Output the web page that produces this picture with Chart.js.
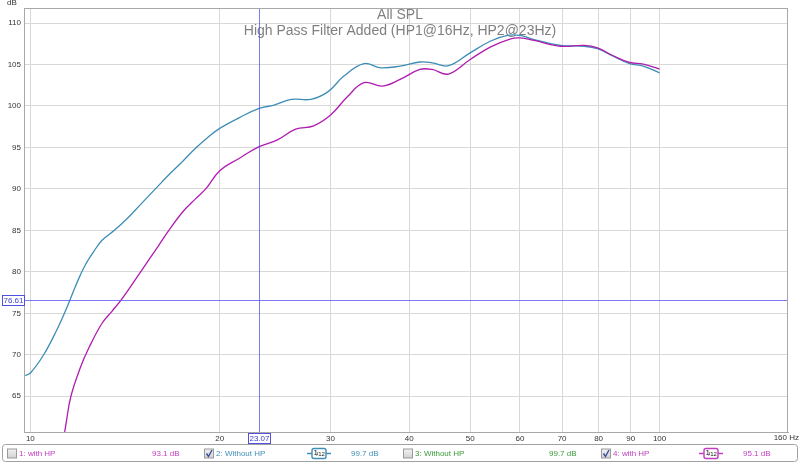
<!DOCTYPE html>
<html>
<head>
<meta charset="utf-8">
<script src="https://cdn.jsdelivr.net/npm/chart.js@4.4.1/dist/chart.umd.min.js"></script>
<style>
  html, body { margin: 0; padding: 0; background: #fff; }
  #wrap { width: 800px; height: 463px; }
</style>
</head>
<body>
<div id="wrap"><canvas id="grafico" width="800" height="463"></canvas></div>
<script>
// valores
const freqSemHP = [9.8, 10.0, 10.5, 11.0, 11.4, 11.8, 12.2, 12.6, 13.0, 13.6, 14.2, 15.0, 15.8, 16.6, 17.5, 18.3, 19.2, 20.0, 21.5, 23.1, 24.4, 26.0, 27.9, 29.7, 31.5, 33.9, 36.0, 38.7, 41.6, 43.5, 46.2, 50.0, 53.8, 57.3, 60.0, 63.2, 69.6, 75.9, 79.7, 84.4, 89.6, 94.2, 100];
const splSemHP = [67.5, 67.8, 70.0, 72.9, 75.5, 78.3, 80.7, 82.4, 83.8, 85.0, 86.3, 88.2, 90.0, 91.7, 93.4, 94.9, 96.3, 97.3, 98.6, 99.7, 100.1, 100.8, 100.8, 101.7, 103.6, 105.1, 104.6, 104.8, 105.3, 105.2, 104.85, 106.4, 107.8, 108.5, 108.5, 108.0, 107.3, 107.2, 106.9, 106.0, 105.1, 104.8, 104.0];

const freqComHP = [11.2, 11.4, 11.6, 12.0, 12.4, 13.0, 13.5, 14.0, 15.0, 16.0, 16.6, 17.5, 18.3, 19.0, 20.0, 21.5, 23.1, 24.7, 26.4, 28.2, 30.0, 31.9, 33.9, 36.3, 38.7, 41.6, 43.5, 46.2, 50.0, 53.8, 58.0, 60.0, 63.2, 69.6, 75.9, 79.7, 84.4, 89.6, 94.2, 100];
const splComHP = [58.0, 61.8, 65.0, 68.4, 70.9, 73.8, 75.3, 76.8, 80.1, 83.2, 85.0, 87.3, 88.8, 90.0, 92.2, 93.7, 95.1, 95.9, 97.2, 97.6, 98.9, 101.1, 102.8, 102.4, 103.2, 104.4, 104.4, 103.85, 105.6, 107.1, 108.1, 108.2, 107.9, 107.2, 107.3, 107.0, 106.05, 105.25, 105.05, 104.45];

const xTicks = [10, 20, 30, 40, 50, 60, 70, 80, 90, 100, 160];
const yTicks = [65, 70, 75, 80, 85, 90, 95, 100, 105, 110];

const cursorFreq = 23.07;
const cursorNivel = 76.61;

const titulo = 'All SPL';
const subtitulo = 'High Pass Filter Added (HP1@16Hz, HP2@23Hz)';

// legenda: [texto, valor, cor, marcado, suavização]
const itensLegenda = [
  ['1: with HP', '93.1 dB', '#c23ec2', false, false],
  ['2: Without HP', '99.7 dB', '#3f8fb8', true, true],
  ['3: Without HP', '99.7 dB', '#3a9a3a', false, false],
  ['4: with HP', '95.1 dB', '#c23ec2', true, true]
];

const corAzul = '#3d8db5';
const corMagenta = '#b01cb0';
const corCursor = 'rgba(80, 80, 240, 0.75)';
const fonte = '"Liberation Sans", Arial, sans-serif';

const pontos = (fs, vs) => fs.map((f, i) => ({ x: f, y: vs[i] }));

// desenha título, moldura, cursor e legenda
const extras = {
  id: 'extras',
  beforeDatasetsDraw(chart) {
    const ctx = chart.ctx;
    ctx.save();
    ctx.fillStyle = '#808080';
    ctx.font = '14px ' + fonte;
    ctx.textAlign = 'center';
    ctx.textBaseline = 'middle';
    ctx.fillText(titulo, 400, 15);
    ctx.fillText(subtitulo, 400, 31);
    ctx.restore();
  },
  afterDatasetsDraw(chart) {
    const { ctx, chartArea: a, scales } = chart;
    const cx = Math.round(scales.x.getPixelForValue(cursorFreq)) + 0.5;
    const cy = Math.round(scales.y.getPixelForValue(cursorNivel)) + 0.5;
    ctx.save();
    ctx.strokeStyle = corCursor;
    ctx.lineWidth = 1;
    ctx.beginPath();
    ctx.moveTo(cx, a.top); ctx.lineTo(cx, a.bottom);
    ctx.moveTo(a.left, cy); ctx.lineTo(a.right, cy);
    ctx.stroke();

    // moldura
    ctx.strokeStyle = '#a8a8a8';
    ctx.strokeRect(a.left + 0.5, a.top + 0.5, a.right - a.left - 1, a.bottom - a.top);
    ctx.restore();
  },
  afterDraw(chart) {
    const { ctx, scales } = chart;
    const cx = Math.round(scales.x.getPixelForValue(cursorFreq)) + 0.5;
    const cy = Math.round(scales.y.getPixelForValue(cursorNivel)) + 0.5;
    ctx.save();
    ctx.font = '8px ' + fonte;
    ctx.textBaseline = 'middle';

    // unidades
    ctx.fillStyle = '#333';
    ctx.textAlign = 'center';
    ctx.fillText('dB', 12, 3);
    ctx.textAlign = 'right';
    ctx.fillText('160 Hz', 799, 438);

    // caixas do cursor
    ctx.fillStyle = '#fff';
    ctx.strokeStyle = '#5050e0';
    ctx.fillRect(2.5, cy - 5, 22, 10);
    ctx.strokeRect(2.5, cy - 5, 22, 10);
    ctx.fillRect(cx - 11, 433.5, 22, 10);
    ctx.strokeRect(cx - 11, 433.5, 22, 10);
    ctx.fillStyle = '#4040d0';
    ctx.textAlign = 'center';
    ctx.fillText(cursorNivel.toFixed(2), 13.5, cy + 0.5);
    ctx.fillText(cursorFreq.toFixed(2), cx, 438.5);

    // legenda
    ctx.strokeStyle = '#a0a0a0';
    ctx.beginPath();
    ctx.roundRect(2.5, 444.5, 795, 17, 3);
    ctx.stroke();

    const colunas = [7, 204, 403, 601];
    const posValor = [152, 351, 549, 743];
    const yl = 453.5;
    itensLegenda.forEach((item, i) => {
      const [texto, valor, cor, marcado, suave] = item;
      const x0 = colunas[i];
      const g = ctx.createLinearGradient(0, yl - 5, 0, yl + 5);
      g.addColorStop(0, '#f4f4f4');
      g.addColorStop(1, '#d0d0d0');
      ctx.fillStyle = g;
      ctx.fillRect(x0 + 0.5, yl - 4.5, 9, 9);
      ctx.strokeStyle = '#9a9a9a';
      ctx.strokeRect(x0 + 0.5, yl - 4.5, 9, 9);
      if (marcado) {
        ctx.strokeStyle = '#3b4f9a';
        ctx.lineWidth = 1.4;
        ctx.beginPath();
        ctx.moveTo(x0 + 2.5, yl);
        ctx.lineTo(x0 + 4.5, yl + 3);
        ctx.lineTo(x0 + 8, yl - 3.5);
        ctx.stroke();
        ctx.lineWidth = 1;
      }
      ctx.fillStyle = cor;
      ctx.textAlign = 'left';
      ctx.fillText(texto, x0 + 12, yl);
      ctx.fillText(valor, posValor[i], yl);
      if (suave) {
        const sx = posValor[i] - 44;
        ctx.strokeStyle = cor;
        ctx.lineWidth = 1.4;
        ctx.beginPath();
        ctx.moveTo(sx, yl); ctx.lineTo(sx + 5, yl);
        ctx.moveTo(sx + 19, yl); ctx.lineTo(sx + 24, yl);
        ctx.stroke();
        ctx.beginPath();
        ctx.roundRect(sx + 5, yl - 5, 14, 10, 2);
        ctx.stroke();
        ctx.lineWidth = 1;
        ctx.fillStyle = '#222';
        ctx.font = '8px ' + fonte;
        ctx.fillText('1', sx + 6.5, yl - 1);
        ctx.font = '6px ' + fonte;
        ctx.fillText('/12', sx + 9.5, yl + 1);
        ctx.font = '8px ' + fonte;
      }
    });
    ctx.restore();
  }
};

new Chart(document.getElementById('grafico'), {
  type: 'line',
  data: {
    datasets: [
      {
        label: '4: with HP',
        data: pontos(freqComHP, splComHP),
        borderColor: corMagenta,
        borderWidth: 1.3,
        pointRadius: 0,
        tension: 0.4,
        order: 0
      },
      {
        label: '2: Without HP',
        data: pontos(freqSemHP, splSemHP),
        borderColor: corAzul,
        borderWidth: 1.3,
        pointRadius: 0,
        tension: 0.4,
        order: 1
      }
    ]
  },
  options: {
    responsive: false,
    animation: false,
    events: [],
    layout: { padding: { left: 0, top: 8, right: 12, bottom: 18 } },
    scales: {
      x: {
        type: 'logarithmic',
        min: 9.77,
        max: 160,
        afterBuildTicks: axis => { axis.ticks = xTicks.map(v => ({ value: v })); },
        afterFit: axis => { axis.height = 13; },
        ticks: {
          autoSkip: false,
          maxRotation: 0,
          padding: 2,
          color: '#333',
          font: { size: 8, family: fonte },
          callback: v => (v === 160 ? '' : String(v))
        },
        grid: {
          drawTicks: false,
          color: ctx => (ctx.tick && ctx.tick.value === 160 ? 'rgba(0,0,0,0)' : '#d8d8d8')
        },
        border: { color: '#a8a8a8' }
      },
      y: {
        min: 60.69,
        max: 111.81,
        afterBuildTicks: axis => { axis.ticks = yTicks.map(v => ({ value: v })); },
        afterFit: axis => { axis.width = 24; },
        ticks: {
          padding: 3,
          color: '#333',
          font: { size: 8, family: fonte }
        },
        grid: { drawTicks: false, color: '#d8d8d8' },
        border: { color: '#a8a8a8' }
      }
    },
    plugins: {
      legend: { display: false },
      tooltip: { enabled: false }
    }
  },
  plugins: [extras]
});
</script>
</body>
</html>
